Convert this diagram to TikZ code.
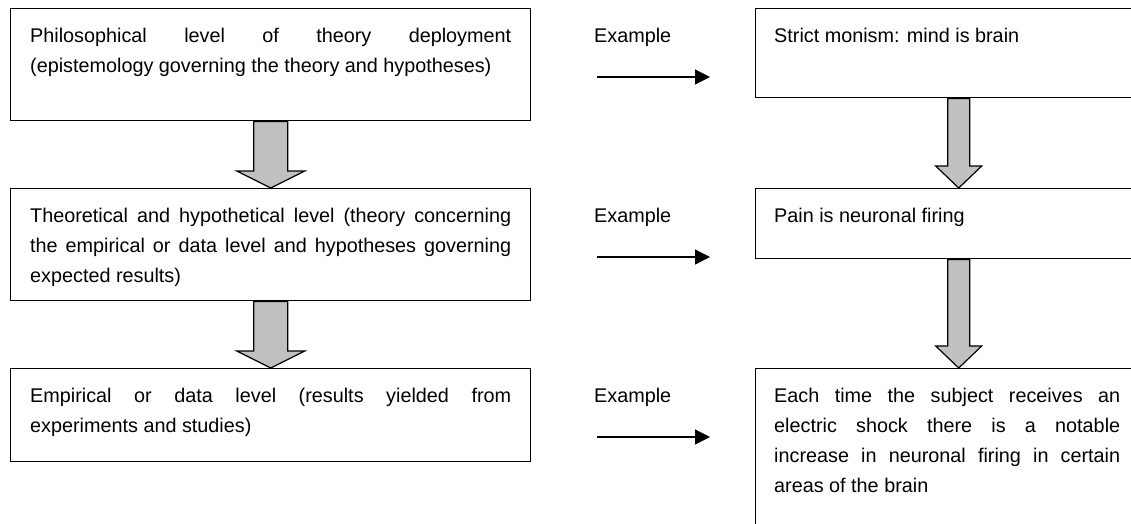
\documentclass[tikz,border=0pt]{standalone}
\usepackage{fontspec}
\setmainfont{Liberation Sans}
\usetikzlibrary{arrows.meta,calc}
\definecolor{arrowgray}{HTML}{C0C0C0}

% block arrow pointing down from the bottom of one box to the top of the next
% #1 from node, #2 to node, #3 shaft half width, #4 head half width, #5 head length
\newcommand\downblock[5]{%
  \draw[blockarrow] let \p1=(#1.south), \p2=(#2.north) in
    (\x1-#3,\y1) -- (\x1-#3,\y2+#5) -- (\x1-#4,\y2+#5) -- (\x2,\y2)
    -- (\x1+#4,\y2+#5) -- (\x1+#3,\y2+#5) -- (\x1+#3,\y1) -- cycle;}

\tikzset{
  box/.style={draw=black, line width=1.4pt, fill=white, inner sep=0pt, anchor=north west},
  boxtext/.style={anchor=base west, inner sep=0pt, align=justify,
    font=\fontsize{19.8pt}{30pt}\selectfont},
  extext/.style={anchor=base west, inner sep=0pt, font=\fontsize{19.8pt}{30pt}\selectfont},
  exarrow/.style={line width=1.3pt, -{Triangle[length=15pt,width=15pt]}},
  blockarrow/.style={draw=black, line width=1.2pt, fill=arrowgray, line join=miter},
}

\begin{document}
\hbadness=10000
\tolerance=10000
\begin{tikzpicture}[x=1pt,y=-1pt]
\useasboundingbox (0,0) rectangle (1131,523);
\clip (0,0) rectangle (1131,523);

% left column: levels
\node[box, minimum width=520pt, minimum height=112pt] (l1) at (10,8) {};
\node[box, minimum width=520pt, minimum height=112pt] (l2) at (10,188) {};
\node[box, minimum width=520pt, minimum height=93pt]  (l3) at (10,368) {};

\node[boxtext, text width=481pt] (t1) at (30,42)
  {Philosophical level of theory deployment\linebreak
   (epistemology governing the theory and hypotheses)};
\node[boxtext, text width=481pt] (t2) at (30,222)
  {Theoretical and hypothetical level (theory concerning\linebreak
   the empirical or data level and hypotheses governing\linebreak
   expected results)};
\node[boxtext, text width=481pt] (t3) at (30,402)
  {Empirical or data level (results yielded from\linebreak
   experiments and studies)};

% right column: examples
\node[box, minimum width=406pt, minimum height=89pt]  (r1) at (755,8) {};
\node[box, minimum width=406pt, minimum height=70pt]  (r2) at (755,188) {};
\node[box, minimum width=406pt, minimum height=240pt] (r3) at (755,368) {};

\node[boxtext, text width=346pt] (s1) at (774,42) {Strict monism: mind is brain};
\node[boxtext, text width=346pt] (s2) at (774,222) {Pain is neuronal firing};
\node[boxtext, text width=346pt] (s3) at (774,402)
  {Each time the subject receives an\linebreak
   electric shock there is a notable\linebreak
   increase in neuronal firing in certain\linebreak
   areas of the brain};

% "Example" labels with their arrows
\node[extext] (e1) at (594,42) {Example};
\node[extext] (e2) at (594,222) {Example};
\node[extext] (e3) at (594,402) {Example};

\coordinate (h1a) at (597,77);  \coordinate (h1b) at (710,77);
\coordinate (h2a) at (597,257); \coordinate (h2b) at (710,257);
\coordinate (h3a) at (597,437); \coordinate (h3b) at (710,437);
\draw[exarrow] (h1a) -- (h1b);
\draw[exarrow] (h2a) -- (h2b);
\draw[exarrow] (h3a) -- (h3b);

% block arrows between levels
\downblock{l1}{l2}{17pt}{34pt}{17pt}
\downblock{l2}{l3}{17pt}{34pt}{17pt}
\downblock{r1}{r2}{11pt}{23pt}{22pt}
\downblock{r2}{r3}{11pt}{23pt}{22pt}
\end{tikzpicture}
\end{document}
